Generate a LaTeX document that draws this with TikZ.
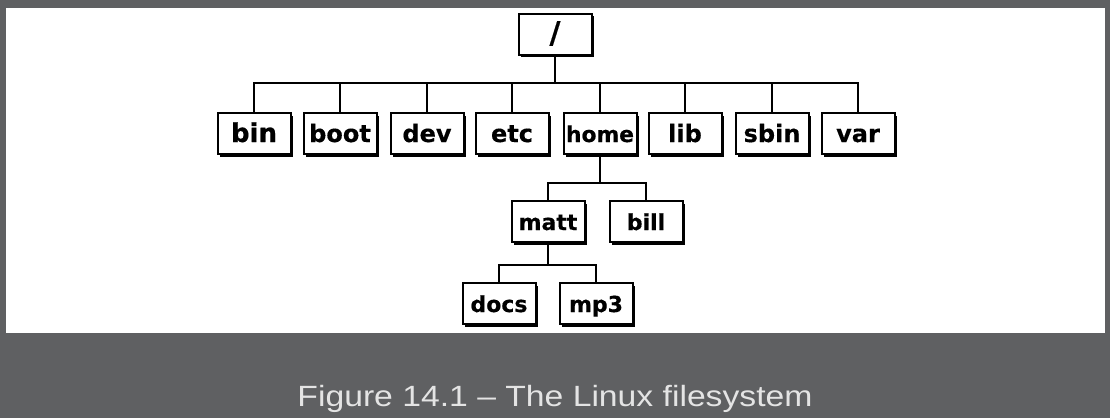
\documentclass[tikz,border=0pt]{standalone}
\usepackage{fontspec}
\newfontfamily\boxfont{DejaVu Sans}[BoldFeatures={FakeBold=0.4}]
\newfontfamily\capfont{Liberation Sans}
\usetikzlibrary{shadows}
\definecolor{bg}{HTML}{5F6062}
\definecolor{captext}{HTML}{E4E4E4}
\newcommand{\fs}[1]{\fontsize{#1}{#1}\selectfont}
\begin{document}
\begin{tikzpicture}[x=1pt,y=-1pt,
  dirbox/.style={draw=black, line width=2pt, fill=white,
    minimum width=73pt, minimum height=41pt, inner sep=0pt,
    text height=20pt, text depth=3pt,
    font=\boxfont\bfseries\fs{24},
    drop shadow={fill=black, opacity=1, shadow xshift=2.5pt, shadow yshift=-2.5pt}},
  conn/.style={line width=2pt}]
\fill[bg] (0,0) rectangle (1110,418);
\fill[white] (6,8) rectangle (1105,333);
\useasboundingbox (0,0) rectangle (1110,418);

% root
\node[dirbox, font=\boxfont\bfseries\fs{30}, text height=23pt, text depth=5pt] (root) at (555,34) {/};

% level 1
\node[dirbox, font=\boxfont\bfseries\fs{26}] (bin) at (254,133.5) {bin};
\node[dirbox] (boot) at (340,133.5) {boot};
\node[dirbox] (dev)  at (427,133.5) {dev};
\node[dirbox] (etc)  at (512,133.5) {etc};
\node[dirbox, font=\boxfont\bfseries\fs{21.8}] (home) at (600,133.5) {home};
\node[dirbox] (lib)  at (685,133.5) {lib};
\node[dirbox] (sbin) at (772,133.5) {sbin};
\node[dirbox] (var)  at (858,133.5) {var};

% level 2
\node[dirbox, font=\boxfont\bfseries\fs{22}] (matt) at (548,221.5) {matt};
\node[dirbox, font=\boxfont\bfseries\fs{22}] (bill) at (646,221.5) {bill};

% level 3
\node[dirbox, font=\boxfont\bfseries\fs{22}] (docs) at (499,303.5) {docs};
\node[dirbox, font=\boxfont\bfseries\fs{22}] (mp3)  at (596,303.5) {mp3};

% buses
\coordinate (bus1) at (0,83);
\coordinate (bus2) at (0,183);
\coordinate (bus3) at (0,265);

\foreach \c in {bin,boot,dev,etc,home,lib,sbin,var}
  \draw[conn] (root.south) -- (root.south |- bus1) -| (\c.north);
\foreach \c in {matt,bill}
  \draw[conn] (home.south) -- (home.south |- bus2) -| (\c.north);
\foreach \c in {docs,mp3}
  \draw[conn] (matt.south) -- (matt.south |- bus3) -| (\c.north);

% caption
\node[text=captext, font=\capfont\fs{29.3}, anchor=base, inner sep=0pt] (cap) at (555,406)
  {\scalebox{1.15}[1]{Figure 14.1 – The Linux filesystem}};
\end{tikzpicture}
\end{document}
